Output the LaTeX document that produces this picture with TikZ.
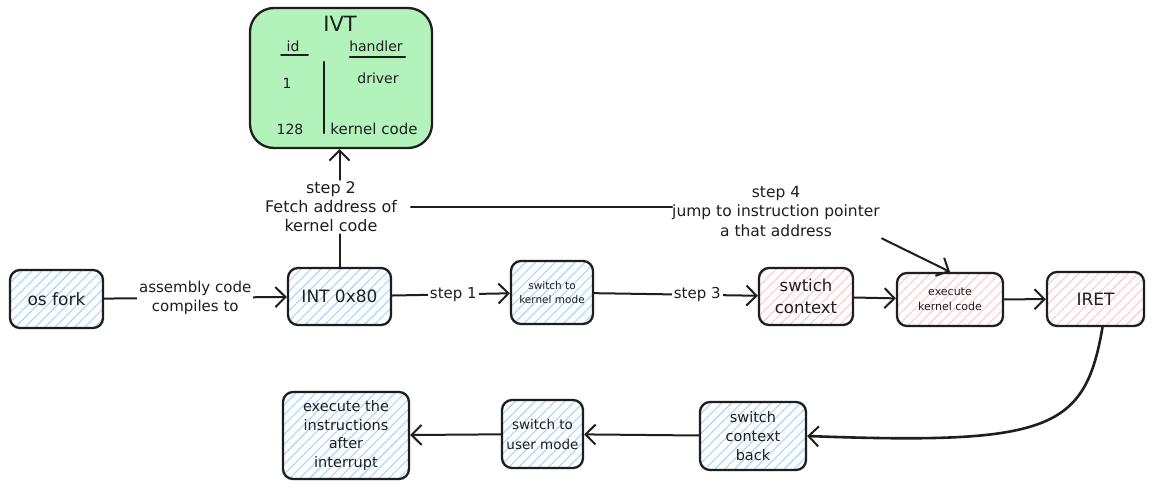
\documentclass[tikz,border=0pt]{standalone}
\usepackage{fontspec}
\setmainfont{DejaVu Sans}
\usetikzlibrary{arrows.meta,patterns.meta}
\definecolor{ink}{HTML}{1E1E1E}
\definecolor{hblue}{HTML}{A5D8FF}
\definecolor{hred}{HTML}{FFC9C9}
\definecolor{ivtgreen}{HTML}{B2F2BB}
\tikzset{
 box/.style={draw=ink, line width=2.3pt, rounded corners=10pt, inner sep=2pt, align=center, text=ink, font=\fontsize{14}{19}\selectfont},
 bluebox/.style={box, pattern={Lines[angle=45,distance=7pt,line width=1.1pt]}, pattern color=hblue},
 redbox/.style={box, pattern={Lines[angle=45,distance=7pt,line width=1.1pt]}, pattern color=hred},
 conn/.style={draw=ink, line width=2pt, line cap=round},
 arr/.style={conn, -{Straight Barb[length=10pt,width=20pt,line width=2pt]}},
 lbl/.style={text=ink, align=center, inner sep=2pt, font=\fontsize{15}{19}\selectfont},
 wlbl/.style={lbl, fill=white},
 ivtt/.style={text=ink, inner sep=0pt, font=\fontsize{14}{16}\selectfont},
}
\begin{document}
\begin{tikzpicture}[x=1pt,y=-1pt]
\path[use as bounding box, fill=white] (0,0) rectangle (1153,491);
% IVT table
\node[box, fill=ivtgreen, rounded corners=24pt, minimum width=182pt, minimum height=140pt] (ivt) at (341,78) {};
\node[ivtt, font=\fontsize{21}{22}\selectfont] (ivtl) at (340,24) {IVT};
\node[ivtt] (idh) at (293,46) {id};
\node[ivtt] (hh) at (376,46) {handler};
\draw[conn] (281,55) -- (308,55);
\draw[conn, line width=2.6pt] (350,57) -- (405,57);
\draw[conn, line width=2.6pt] (324,62) -- (324,133);
\node[ivtt] (r1) at (287,83) {1};
\node[ivtt] (d1) at (378,78) {driver};
\node[ivtt] (r2) at (290,129) {128};
\node[ivtt, font=\fontsize{15}{16}\selectfont] (d2) at (374,129) {kernel code};
% boxes
\node[bluebox, minimum width=93pt, minimum height=58pt, font=\fontsize{17}{20}\selectfont] (osf) at (56.5,299) {os fork};
\node[bluebox, minimum width=103pt, minimum height=57pt, font=\fontsize{17}{20}\selectfont] (int) at (339.5,296.5) {INT 0x80};
\node[bluebox, font=\fontsize{10.5}{14}\selectfont, minimum width=82pt, minimum height=63pt] (skm) at (552,292.5) {switch to\\kernel mode};
\node[redbox, minimum width=94pt, minimum height=57pt, font=\fontsize{16.5}{22}\selectfont] (swc) at (806,296.5) {swtich\\context};
\node[redbox, font=\fontsize{11}{15}\selectfont, minimum width=106pt, minimum height=53pt] (exk) at (950,299.5) {execute\\kernel code};
\node[redbox, minimum width=97pt, minimum height=54pt, font=\fontsize{17}{20}\selectfont] (iret) at (1095.5,299) {IRET};
\node[bluebox, minimum width=106pt, minimum height=68pt, font=\fontsize{14.5}{19}\selectfont] (scb) at (753,436) {switch\\context\\back};
\node[bluebox, minimum width=81pt, minimum height=68pt, font=\fontsize{13.5}{20}\selectfont] (sum) at (542.5,434) {switch to\\user mode};
\node[bluebox, minimum width=126pt, minimum height=87pt, font=\fontsize{14.5}{18.5}\selectfont] (exi) at (346,435.5) {execute the\\instructions\\after\\interrupt};
% labels
\node[lbl, font=\fontsize{16}{19}\selectfont] (lab2) at (331,207) {step 2\\Fetch address of\\kernel code};
\node[lbl, font=\fontsize{15.5}{19.5}\selectfont] (lab4) at (776,211) {step 4\\jump to instruction pointer\\a that address};
% connectors
\draw[arr] (osf) -- node[wlbl] {assembly code\\compiles to} (int);
\draw[conn] (int.north) -- (int.north |- lab2.south);
\draw[arr] (int.north |- lab2.north) -- (ivt.south -| int.north);
\draw[arr] (int) -- node[wlbl, pos=0.52] {step 1} (skm);
\draw[arr] (skm) -- node[wlbl, pos=0.63] {step 3} (swc);
\draw[arr] (swc) -- (exk);
\draw[arr] (exk) -- (iret);
\draw[conn, line width=2.6pt] ([xshift=12pt]lab2.east |- 0,207) -- ([xshift=2pt]lab4.west |- 0,207);
\draw[arr] (lab4.south east) -- (exk.north);
\draw[arr, line width=2.6pt] ([xshift=7pt]iret.south) .. controls (1085,430) and (1050,445) .. (scb.east);
\draw[arr] (scb) -- (sum);
\draw[arr] (sum) -- (exi);
\end{tikzpicture}
\end{document}
